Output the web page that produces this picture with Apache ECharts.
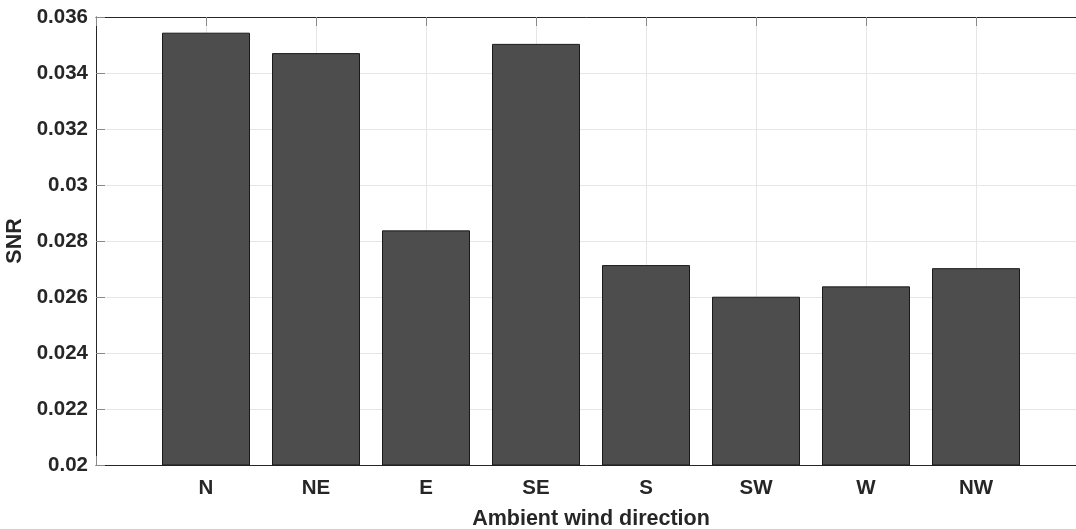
<!DOCTYPE html>
<html>
<head>
<meta charset="utf-8">
<script src="https://cdn.jsdelivr.net/npm/echarts@6/dist/echarts.min.js"></script>
<style>html,body{margin:0;padding:0;background:#fff;}#c{width:1076px;height:529px;}</style>
</head>
<body>
<div id="c"></div>
<script>
const categories = ['N', 'NE', 'E', 'SE', 'S', 'SW', 'W', 'NW'];
const snrValues = [0.03544, 0.03471, 0.02838, 0.03504, 0.02714, 0.02601, 0.02638, 0.02703];
const yTicks = { min: 0.02, max: 0.036, step: 0.002 };

const FONT = '"Liberation Sans", Arial, Helvetica, sans-serif';
const TXT = '#262626';
const chart = echarts.init(document.getElementById('c'), null, { renderer: 'canvas' });
const barData = snrValues.map((v, i) => [i + 1, v]);

chart.setOption({
  animation: false,
  backgroundColor: '#ffffff',
  grid: { left: 96, top: 17, width: 990, bottom: 64, containLabel: false, outerBoundsMode: 'none' },
  xAxis: [{
    type: 'value', min: 0, max: categories.length + 1, interval: 1,
    position: 'bottom',
    name: 'Ambient wind direction', nameLocation: 'middle', nameGap: 43,
    nameTextStyle: { fontFamily: FONT, fontWeight: 'bold', fontSize: 21.5, color: TXT },
    axisLine: { show: true, onZero: false, lineStyle: { color: '#262626', width: 1 } },
    axisTick: { show: true, inside: true, length: 9, lineStyle: { color: '#8a8a8a', width: 1 } },
    axisLabel: {
      margin: 13, fontFamily: FONT, fontWeight: 'bold', fontSize: 20.5, color: TXT,
      formatter: v => categories[v - 1] || ''
    },
    splitLine: { show: true, lineStyle: { color: '#e6e6e6', width: 1 } }
  }, {
    type: 'value', min: 0, max: categories.length + 1, interval: 1,
    position: 'top',
    axisLine: { show: true, onZero: false, lineStyle: { color: '#262626', width: 1 } },
    axisTick: { show: true, inside: true, length: 9, lineStyle: { color: '#8a8a8a', width: 1 } },
    axisLabel: { show: false },
    splitLine: { show: false }
  }],
  yAxis: {
    type: 'value', min: yTicks.min, max: yTicks.max, interval: yTicks.step,
    name: 'SNR', nameLocation: 'middle', nameGap: 67, nameRotate: 90,
    nameTextStyle: { fontFamily: FONT, fontWeight: 'bold', fontSize: 21.5, color: TXT },
    axisLine: { show: true, onZero: false, lineStyle: { color: '#262626', width: 1 } },
    axisTick: { show: true, inside: true, length: 9, lineStyle: { color: '#8a8a8a', width: 1 } },
    axisLabel: {
      margin: 8, fontFamily: FONT, fontWeight: 'bold', fontSize: 20.5, color: TXT,
      formatter: v => String(parseFloat(v.toFixed(3)))
    },
    splitLine: { show: true, lineStyle: { color: '#e6e6e6', width: 1 } }
  },
  series: [{
    type: 'bar',
    xAxisIndex: 0,
    data: barData,
    barWidth: 88,
    itemStyle: { color: '#4d4d4d', borderColor: '#1a1a1a', borderWidth: 1 }
  }]
});
</script>
</body>
</html>
